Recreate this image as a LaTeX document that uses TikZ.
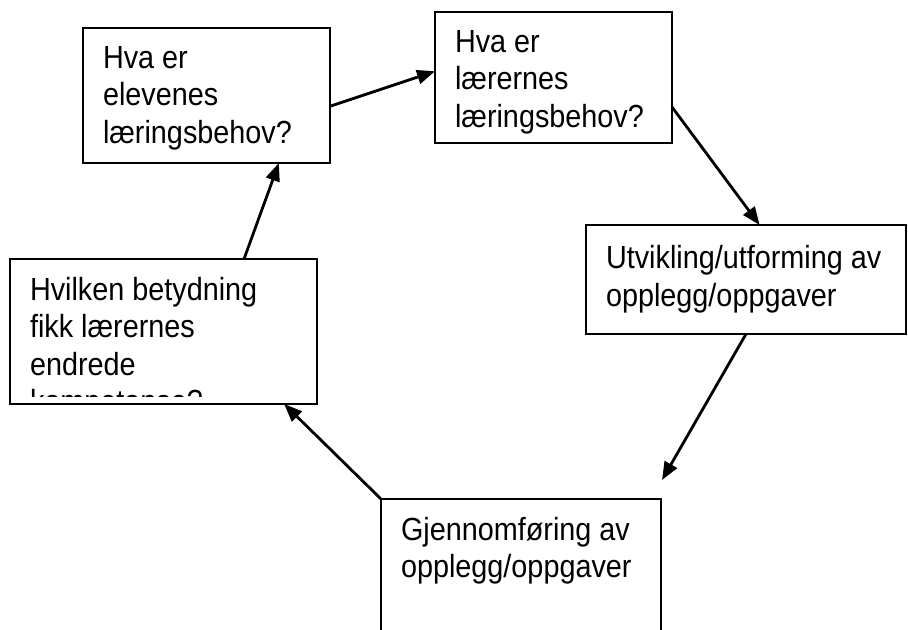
\documentclass[tikz,border=0pt]{standalone}
\usepackage{fontspec}
\setmainfont{Liberation Sans}[FakeStretch=0.9]
\usetikzlibrary{arrows.meta}

\newcommand{\boxtext}[3]{\parbox[t][#2][t]{#1}{\raggedright #3}}

\begin{document}
\begin{tikzpicture}[x=0.5pt, y=-0.5pt,
  box/.style={draw, line width=1.1pt, anchor=north west, inner xsep=10pt, inner ysep=9pt, outer sep=0pt, font=\fontsize{16}{18.75}\selectfont},
  arr/.style={-{Triangle[length=9pt,width=7pt]}, line width=1.4pt}]
\useasboundingbox (0,0) rectangle (908,630);

\node[box] (elev) at (83,28) {\boxtext{103.5pt}{49.5pt}{Hva er\\elevenes\\læringsbehov?}};
\node[box] (laer) at (435,12) {\boxtext{98.5pt}{47.5pt}{Hva er\\lærernes\\læringsbehov?}};
\node[box, inner ysep=10.25pt] (utv) at (586,225) {\boxtext{140pt}{34pt}{Utvikling/utforming av\\opplegg/oppgaver}};
\node[box] (gjen) at (381,499) {\boxtext{120pt}{57pt}{Gjennomføring av\\opplegg/oppgaver}};

\begin{scope}
\clip (0,0) rectangle (908,396);
\node[box, draw=none] (betyd) at (10,259) {\boxtext{133.5pt}{54.5pt}{Hvilken betydning\\fikk lærernes\\endrede\\kompetanse?}};
\end{scope}
\draw[line width=1.1pt] (betyd.north west) rectangle (betyd.south east);

\coordinate (gjenIn) at (662,480);

\draw[arr] (elev.-5) -- (laer.177);
\draw[arr] (laer.-14) -- (utv.76);
\draw[arr] (utv.south) -- (gjenIn);
\draw[arr] (gjen.north west) -- (betyd.-31);
\draw[arr] (betyd.42) -- (elev.-43);
\end{tikzpicture}
\end{document}
